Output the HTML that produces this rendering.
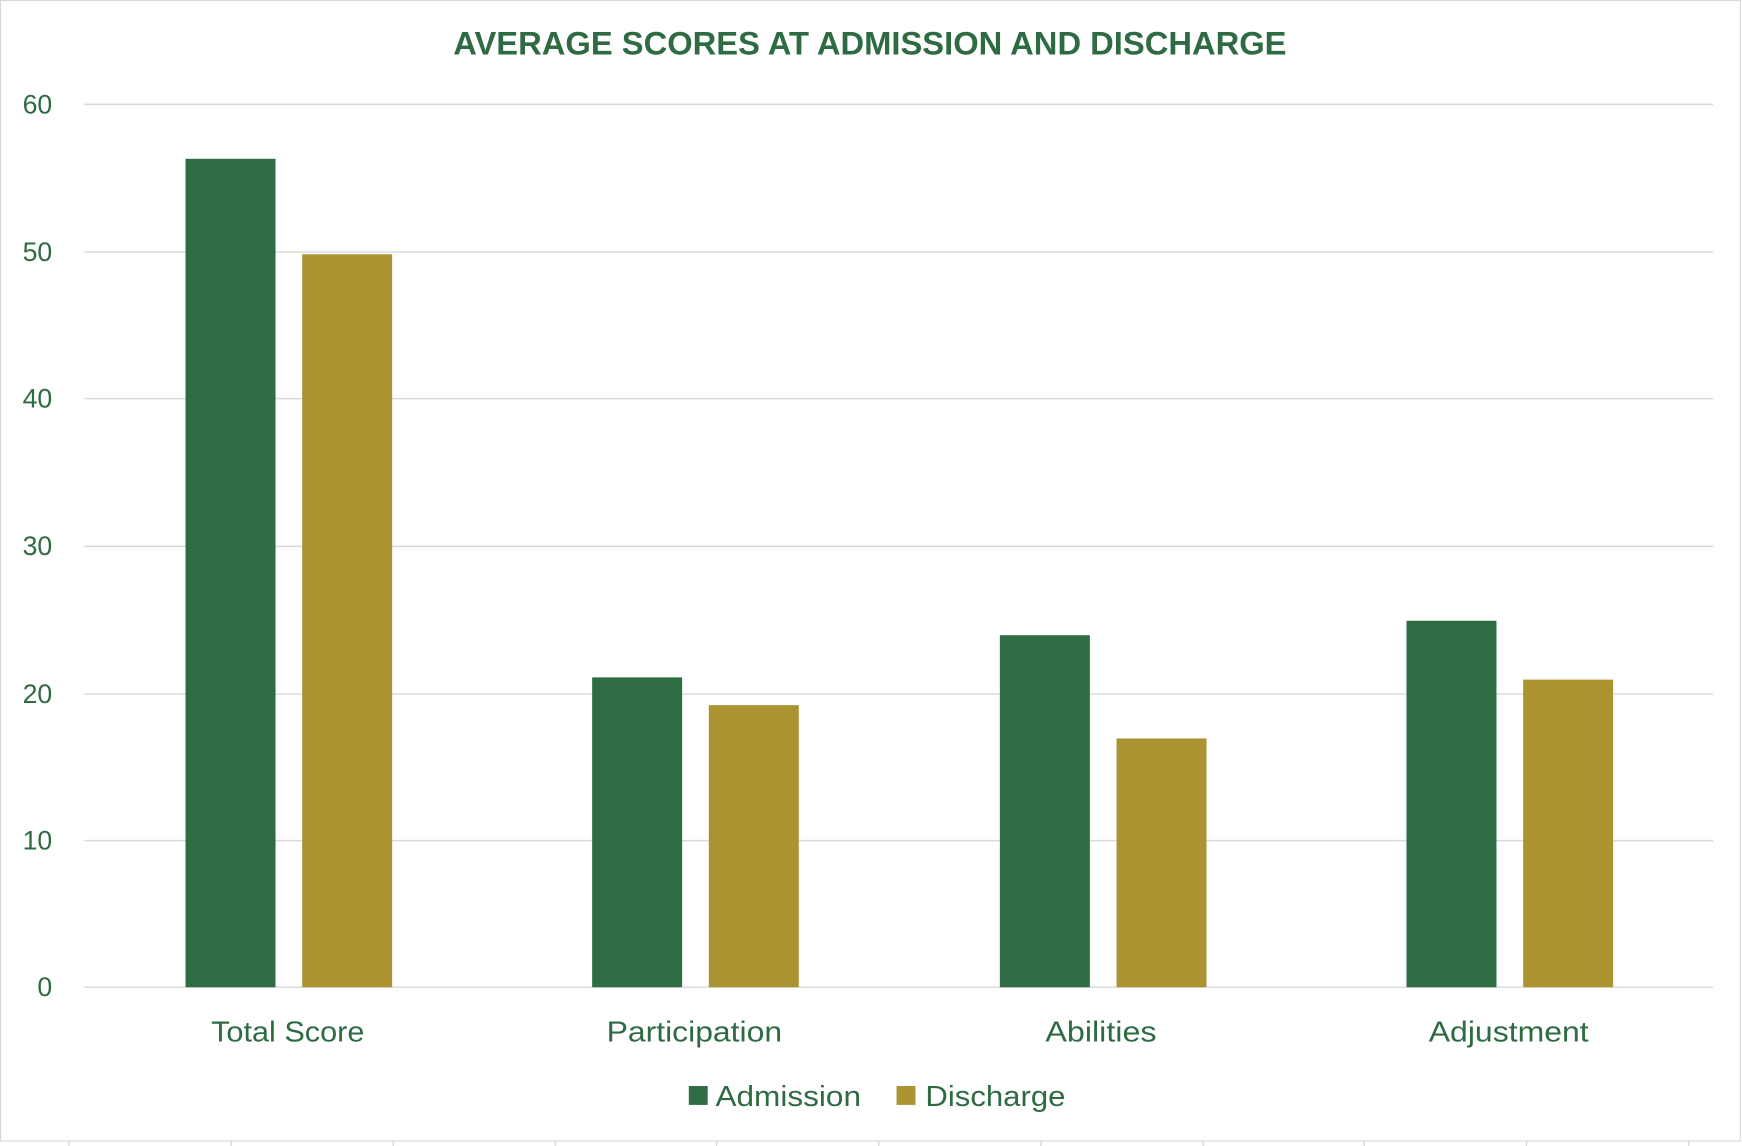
<!DOCTYPE html>
<html><head><style>html,body{margin:0;padding:0;background:#fff}svg{display:block}</style></head>
<body>
<svg width="1742" height="1146" viewBox="0 0 1568 1032" preserveAspectRatio="none" xmlns="http://www.w3.org/2000/svg" font-family="Liberation Sans, sans-serif" fill="#2e6b42">
<rect x="0.5" y="0.5" width="1566" height="1027" fill="#fff" stroke="#d9d9d9"/>
<g stroke="#d9d9d9" stroke-width="1.3">
<line x1="76" x2="1542" y1="94" y2="94"/><line x1="76" x2="1542" y1="227" y2="227"/>
<line x1="76" x2="1542" y1="359" y2="359"/><line x1="76" x2="1542" y1="492" y2="492"/>
<line x1="76" x2="1542" y1="625" y2="625"/><line x1="76" x2="1542" y1="757" y2="757"/>
<line x1="76" x2="1542" y1="889" y2="889"/>
<line x1="62" x2="62" y1="1027" y2="1032"/><line x1="208" x2="208" y1="1027" y2="1032"/><line x1="354" x2="354" y1="1027" y2="1032"/><line x1="500" x2="500" y1="1027" y2="1032"/><line x1="645" x2="645" y1="1027" y2="1032"/><line x1="791" x2="791" y1="1027" y2="1032"/><line x1="937" x2="937" y1="1027" y2="1032"/><line x1="1083" x2="1083" y1="1027" y2="1032"/><line x1="1228" x2="1228" y1="1027" y2="1032"/><line x1="1374" x2="1374" y1="1027" y2="1032"/><line x1="1520" x2="1520" y1="1027" y2="1032"/>
</g>
<text x="783" y="49" text-anchor="middle" font-size="29" font-weight="bold" textLength="750" lengthAdjust="spacingAndGlyphs">AVERAGE SCORES AT ADMISSION AND DISCHARGE</text>
<g font-size="24" text-anchor="end">
<text x="47" y="102">60</text><text x="47" y="235">50</text><text x="47" y="367">40</text>
<text x="47" y="500">30</text><text x="47" y="633">20</text><text x="47" y="765">10</text><text x="47" y="897">0</text>
</g>
<g fill="#2f6b43">
<rect x="167" y="143" width="81" height="746"/><rect x="533" y="610" width="81" height="279"/>
<rect x="900" y="572" width="81" height="317"/><rect x="1266" y="559" width="81" height="330"/>
</g>
<g fill="#ac9332">
<rect x="272" y="229" width="81" height="660"/><rect x="638" y="635" width="81" height="254"/>
<rect x="1005" y="665" width="81" height="224"/><rect x="1371" y="612" width="81" height="277"/>
</g>
<g font-size="26" text-anchor="middle">
<text x="259" y="938" textLength="138" lengthAdjust="spacingAndGlyphs">Total Score</text>
<text x="625" y="938" textLength="158" lengthAdjust="spacingAndGlyphs">Participation</text>
<text x="991" y="938" textLength="100" lengthAdjust="spacingAndGlyphs">Abilities</text>
<text x="1358" y="938" textLength="144" lengthAdjust="spacingAndGlyphs">Adjustment</text>
</g>
<rect x="620" y="978" width="17" height="17" fill="#2f6b43"/>
<text x="644" y="996" font-size="26" textLength="131" lengthAdjust="spacingAndGlyphs">Admission</text>
<rect x="807" y="978" width="17" height="17" fill="#ac9332"/>
<text x="833" y="996" font-size="26" textLength="126" lengthAdjust="spacingAndGlyphs">Discharge</text>
</svg>
</body></html>
